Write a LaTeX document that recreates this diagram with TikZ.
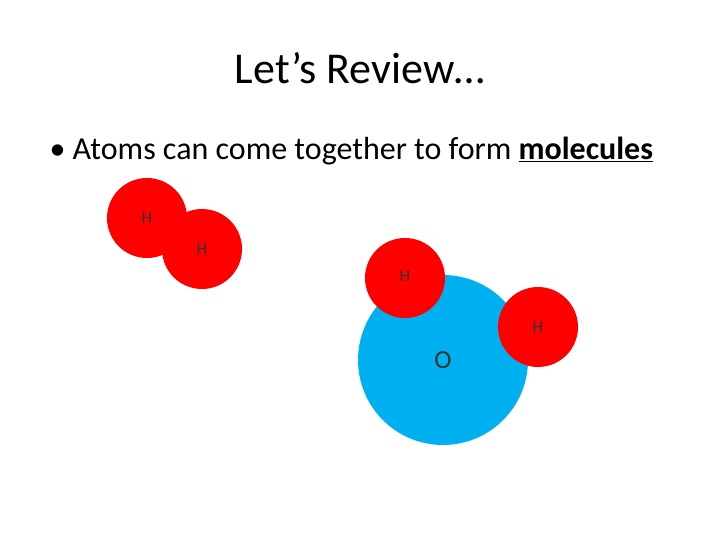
\documentclass[tikz,border=0pt]{standalone}
\usepackage{fontspec}
\setmainfont{Carlito}
\tikzset{
    hatom/.style={circle, fill=red, minimum size=80pt, inner sep=0pt},
    oatom/.style={circle, fill=oblue, minimum size=170pt, inner sep=0pt},
    hlabel/.style={font=\fontsize{17}{19}\selectfont, text=black!80}
}
\definecolor{oblue}{HTML}{00B0F0}
\begin{document}
\begin{tikzpicture}[x=1pt, y=-1pt]
    \useasboundingbox (0, 0) rectangle (720, 540);
    \node at (360, 68) {\fontsize{44}{50}\selectfont Let’s Review…};
    \node[anchor=west] at (46, 151) {\fontsize{32}{36}\selectfont • Atoms can come together to form \textbf{\underline{molecules}}};

    \node[hatom] (h1) at (147, 218) {};
    \node[hatom] (h2) at (202, 249) {};
    \node[oatom] (o) at (443, 360) {};
    \node[hatom] (h3) at (405, 278) {};
    \node[hatom] (h4) at (538, 327) {};

    \node[hlabel] at (h1) {H};
    \node[hlabel] at (h2) {H};
    \node[hlabel] at ([yshift=2pt]h3) {H};
    \node[hlabel] at (h4) {H};
    \node[font=\fontsize{26}{28}\selectfont, text=black!80] at (o) {O};
\end{tikzpicture}
\end{document}
